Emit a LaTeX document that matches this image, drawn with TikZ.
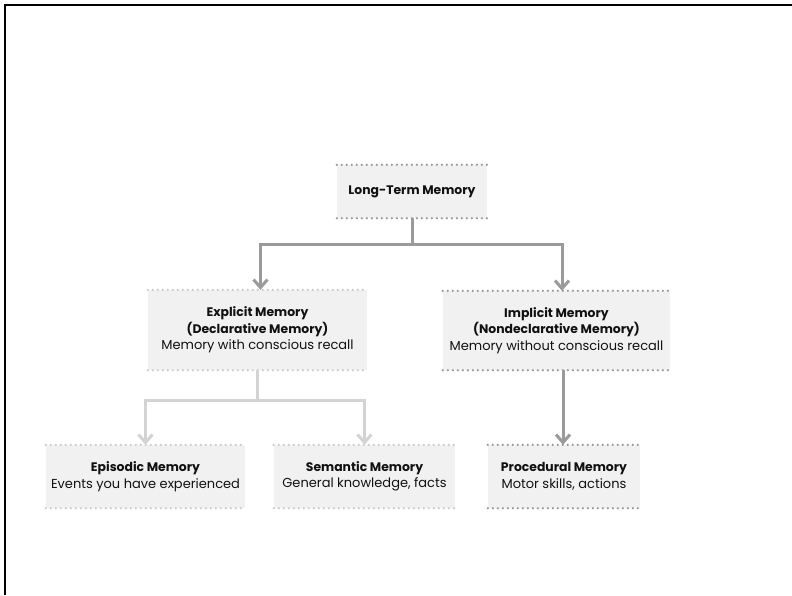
\documentclass[tikz,border=0pt]{standalone}
\usepackage{fontspec}
\setmainfont{Poppins}
\usetikzlibrary{arrows.meta,calc}

\definecolor{boxfill}{HTML}{F1F1F1}
\definecolor{dotdark}{HTML}{999999}
\definecolor{dotlight}{HTML}{CBCBCB}
\definecolor{linkdark}{HTML}{9A9A9A}
\definecolor{linklight}{HTML}{D3D3D3}
\definecolor{ink}{HTML}{111111}

% heading and description lines inside the boxes
\newcommand{\hd}[1]{{\fontsize{12.4}{16.5}\selectfont\bfseries #1}}
\newcommand{\ds}[1]{{\fontsize{13}{16.5}\selectfont #1}}

\tikzset{
  x=1pt, y=-1pt,
  membox/.style={rectangle, fill=boxfill, inner sep=0pt, align=center,
    text=ink, font=\fontsize{13}{16.5}\selectfont},
  dotrule/.style={line width=2.5pt, line cap=round, dash pattern=on 0pt off 5pt},
  link/.style={line width=3pt,
    -{Straight Barb[length=8pt,width=14pt]}},
}

\newcommand{\dotframe}[2]{%
  \draw[dotrule, draw=#2] (#1.north west) -- (#1.north east);
  \draw[dotrule, draw=#2] (#1.south west) -- (#1.south east);
}

\begin{document}
\begin{tikzpicture}
  \useasboundingbox (0,0) rectangle (792,595);

  % outer frame: top and left edges
  \draw[line width=2.5pt, black] (792,5) -- (5,5) -- (5,595);

  % boxes
  \node[membox, minimum width=150pt, minimum height=53pt] (ltm) at (412,191.5)
    {\hd{Long-Term Memory}};
  \node[membox, minimum width=219pt, minimum height=80pt] (exp) at (257.5,330)
    {\hd{Explicit Memory}\\\hd{(Declarative Memory)}\\\ds{Memory with conscious recall}};
  \node[membox, minimum width=227pt, minimum height=79pt] (imp) at (556.5,330.5)
    {\hd{Implicit Memory}\\\hd{(Nondeclarative Memory)}\\\ds{Memory without conscious recall}};
  \node[membox, minimum width=199pt, minimum height=63pt] (epi) at (145.5,476.5)
    {\hd{Episodic Memory}\\\ds{Events you have experienced}};
  \node[membox, minimum width=181pt, minimum height=63pt] (sem) at (364.5,476.5)
    {\hd{Semantic Memory}\\\ds{General knowledge, facts}};
  \node[membox, minimum width=152pt, minimum height=63pt] (pro) at (564,476.5)
    {\hd{Procedural Memory}\\\ds{Motor skills, actions}};

  % dotted top and bottom rules
  \dotframe{ltm}{dotdark}
  \dotframe{exp}{dotlight}
  \dotframe{imp}{dotdark}
  \dotframe{epi}{dotlight}
  \dotframe{sem}{dotlight}
  \dotframe{pro}{dotdark}

  % connectors
  \coordinate (ltmsplit) at ($(ltm.south)+(0,26)$);
  \draw[link, draw=linkdark] (ltm.south) -- (ltmsplit) -| ([xshift=3pt]exp.north);
  \draw[link, draw=linkdark] (ltmsplit) -| ([xshift=5.5pt]imp.north);

  \coordinate (expsplit) at ($(exp.south)+(0,30)$);
  \draw[link, draw=linklight] (exp.south) -- (expsplit) -| (epi.north);
  \draw[link, draw=linklight] (expsplit) -| (sem.north);

  \draw[link, draw=linkdark] ([xshift=6.5pt]imp.south) -- ([xshift=-1pt]pro.north);
\end{tikzpicture}
\end{document}
